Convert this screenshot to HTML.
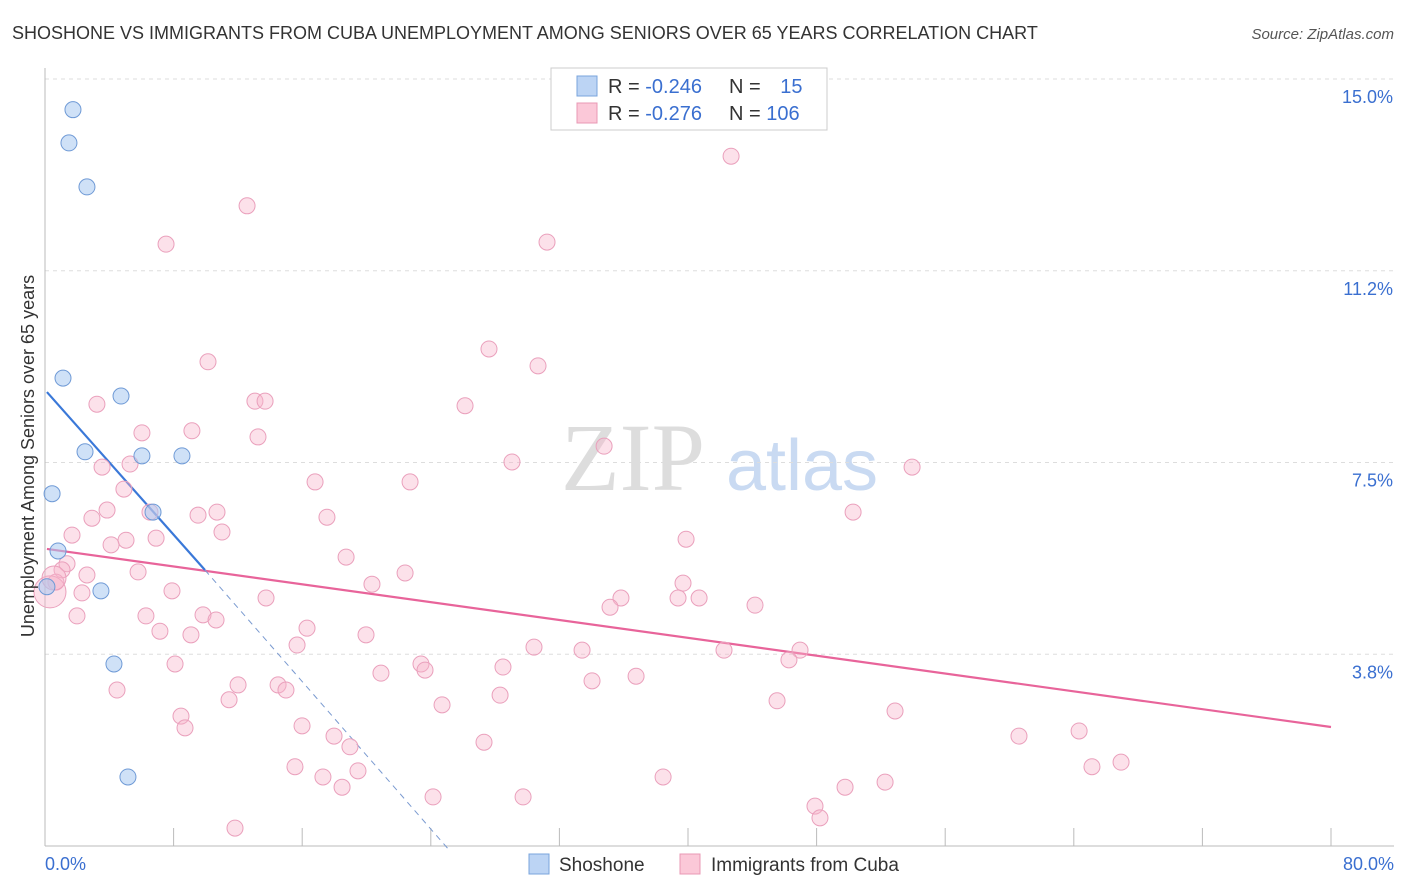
<!DOCTYPE html>
<html><head><meta charset="utf-8">
<style>
body{margin:0;background:#fff;font-family:"Liberation Sans",sans-serif;}
svg{display:block}
</style></head>
<body>
<svg id="chart" width="1406" height="892" xmlns="http://www.w3.org/2000/svg">
<text x="12" y="39" font-size="18" fill="#333">SHOSHONE VS IMMIGRANTS FROM CUBA UNEMPLOYMENT AMONG SENIORS OVER 65 YEARS CORRELATION CHART</text>
<text x="1394" y="39" font-size="15" fill="#555" font-style="italic" text-anchor="end">Source: ZipAtlas.com</text>
<g>
<text x="633" y="490" font-size="96" fill="#ddd" font-family="Liberation Serif,serif" text-anchor="middle">ZIP</text>
<text x="802" y="490" font-size="72" fill="#c9daf2" text-anchor="middle">atlas</text>
</g>
<g id="grid"></g>
<g id="axes"></g>
<g id="lines"></g>
<g id="pts"></g>
<text transform="translate(34,456) rotate(-90)" font-size="18" fill="#333" text-anchor="middle">Unemployment Among Seniors over 65 years</text>
<g>
<rect x="551" y="68" width="276" height="62" fill="#fff" stroke="#ccc"/>
<rect x="577" y="76" width="20" height="20" fill="#bcd4f4" stroke="#7aa4dc"/>
<rect x="577" y="103" width="20" height="20" fill="#fbc8d8" stroke="#e898b4"/>
<text x="608" y="93" font-size="20" fill="#333">R = <tspan fill="#3a6fd0">-0.246</tspan></text>
<text x="729" y="93" font-size="20" fill="#333">N = <tspan fill="#3a6fd0" dx="14">15</tspan></text>
<text x="608" y="120" font-size="20" fill="#333">R = <tspan fill="#3a6fd0">-0.276</tspan></text>
<text x="729" y="120" font-size="20" fill="#333">N = <tspan fill="#3a6fd0">106</tspan></text>
</g>
<g>
<rect x="529" y="854" width="20" height="20" fill="#bcd4f4" stroke="#7aa4dc"/>
<text x="559" y="871" font-size="19" fill="#333">Shoshone</text>
<rect x="680" y="854" width="20" height="20" fill="#fbc8d8" stroke="#e898b4"/>
<text x="711" y="871" font-size="19" fill="#333">Immigrants from Cuba</text>
</g>
</svg>
<script>
const yTicks=[15,11.25,7.5,3.75];
const yTickLabels=["15.0%","11.2%","7.5%","3.8%"];
const xTicks=[0,8,16,24,32,40,48,56,64,72,80];
const shoX=[1.74,1.49,2.61,1.12,4.73,2.49,6.03,8.52,0.44,6.72,0.81,0.12,3.48,4.29,5.16];
const shoY=[14.40,13.75,12.89,9.15,8.80,7.71,7.63,7.63,6.89,6.53,5.77,5.07,4.99,3.56,1.35];
const cubX=[42.68,12.57,7.53,31.23,10.14,27.62,30.67,3.23,13.06,13.69,26.13,6.03,9.14,13.25,34.78,5.29,3.55,29.05,53.94,16.80,22.71,4.91,3.86,2.92,6.53,9.52,10.70,17.54,50.27,1.68,5.04,6.91,11.01,4.11,39.88,18.73,1.37,1.06,0.68,5.79,2.61,22.40,20.34,39.69,2.30,7.90,13.75,35.83,35.15,39.38,40.69,44.17,1.99,6.28,9.83,10.64,7.15,9.08,16.30,19.97,15.68,30.42,33.41,42.24,46.97,46.28,8.09,23.39,23.64,28.49,20.90,36.77,34.03,4.48,12.01,14.50,14.99,28.31,11.45,45.54,24.70,52.88,8.46,8.71,15.99,17.98,18.97,27.31,60.59,64.33,15.55,19.47,17.29,65.13,66.94,38.45,18.48,49.77,52.26,24.14,29.74,47.90,48.21,11.82,0.31,0.56];
const cubY=[13.49,12.52,11.77,11.81,9.47,9.72,9.39,8.64,8.70,8.70,8.61,8.08,8.12,8.00,7.82,7.47,7.41,7.51,7.41,7.12,7.12,6.98,6.57,6.41,6.53,6.47,6.53,6.43,6.53,6.08,5.98,6.02,6.14,5.89,6.00,5.65,5.52,5.40,5.16,5.36,5.30,5.34,5.12,5.14,4.95,4.99,4.85,4.85,4.67,4.85,4.85,4.71,4.50,4.50,4.52,4.42,4.20,4.13,4.26,4.13,3.93,3.89,3.83,3.83,3.83,3.64,3.56,3.56,3.44,3.50,3.38,3.32,3.23,3.05,3.15,3.15,3.05,2.95,2.86,2.84,2.76,2.64,2.54,2.31,2.35,2.15,1.94,2.03,2.15,2.25,1.55,1.47,1.35,1.55,1.64,1.35,1.15,1.15,1.25,0.96,0.96,0.78,0.55,0.35,4.97,5.24];
const cubR=cubX.map((v,i)=>i===104?16:(i===105?12:8));
const shoLine=[8.92,-0.354];
const cubLine=[5.815,-0.0436];
const NS="http://www.w3.org/2000/svg";
const X0=45,X1=1331,Y0=846,Y15=79;
function sx(v){return X0+(v/80)*(X1-X0);}
function sy(v){return Y0-(v/15)*(Y0-Y15);}
function mk(t,a,p){const e=document.createElementNS(NS,t);for(const k in a)e.setAttribute(k,a[k]);p.appendChild(e);return e;}
const grid=document.getElementById('grid'),axes=document.getElementById('axes'),lines=document.getElementById('lines'),pts=document.getElementById('pts');
yTicks.forEach((t,i)=>{
 const l=mk('line',{x1:X0,x2:1394,y1:sy(t),y2:sy(t),stroke:'#ddd','stroke-dasharray':'4,4'},grid);
 
 
 const tx=mk('text',{x:1393,y:sy(t)+24,'font-size':18,fill:'#3a6fd0','text-anchor':'end'},axes);
 tx.textContent=yTickLabels[i];
 
 
});
mk('line',{x1:X0,x2:X0,y1:68,y2:Y0,stroke:'#bbb'},axes);
mk('line',{x1:X0,x2:1394,y1:Y0,y2:Y0,stroke:'#bbb'},axes);
xTicks.forEach(t=>{
 const l=mk('line',{x1:sx(t),x2:sx(t),y1:Y0,y2:Y0-18,stroke:'#bbb'},axes);
 
 
});
const xl0=mk('text',{x:45,y:870,'font-size':18,fill:'#3a6fd0'},axes);xl0.textContent='0.0%';


const xl1=mk('text',{x:1394,y:870,'font-size':18,fill:'#3a6fd0','text-anchor':'end'},axes);xl1.textContent='80.0%';


cubX.forEach((v,i)=>{
 const c=mk('circle',{cx:sx(v),cy:sy(cubY[i]),r:cubR[i],fill:'rgba(248,180,202,0.4)',stroke:'#eaa0bc','stroke-width':1},pts);
 
 
});
shoX.forEach((v,i)=>{
 const c=mk('circle',{cx:sx(v),cy:sy(shoY[i]),r:8,fill:'rgba(168,200,240,0.55)',stroke:'#6f9ad6','stroke-width':1},pts);
 
 
});
const cl=mk('line',{x1:sx(0.12),y1:sy(cubLine[0]+cubLine[1]*0.12),x2:sx(80),y2:sy(cubLine[0]+cubLine[1]*80),stroke:'#e8649a','stroke-width':2.2},lines);


const xe=9.95,xz=-shoLine[0]/shoLine[1];
const sl=mk('line',{x1:sx(0.12),y1:sy(shoLine[0]+shoLine[1]*0.12),x2:sx(xe),y2:sy(shoLine[0]+shoLine[1]*xe),stroke:'#3a78d8','stroke-width':2.2},lines);


const sd=mk('line',{x1:sx(xe),y1:sy(shoLine[0]+shoLine[1]*xe),x2:sx(xz),y2:sy(-0.1),stroke:'#7a9ad0','stroke-width':1,'stroke-dasharray':'6,5'},lines);


</script>
</body></html>
